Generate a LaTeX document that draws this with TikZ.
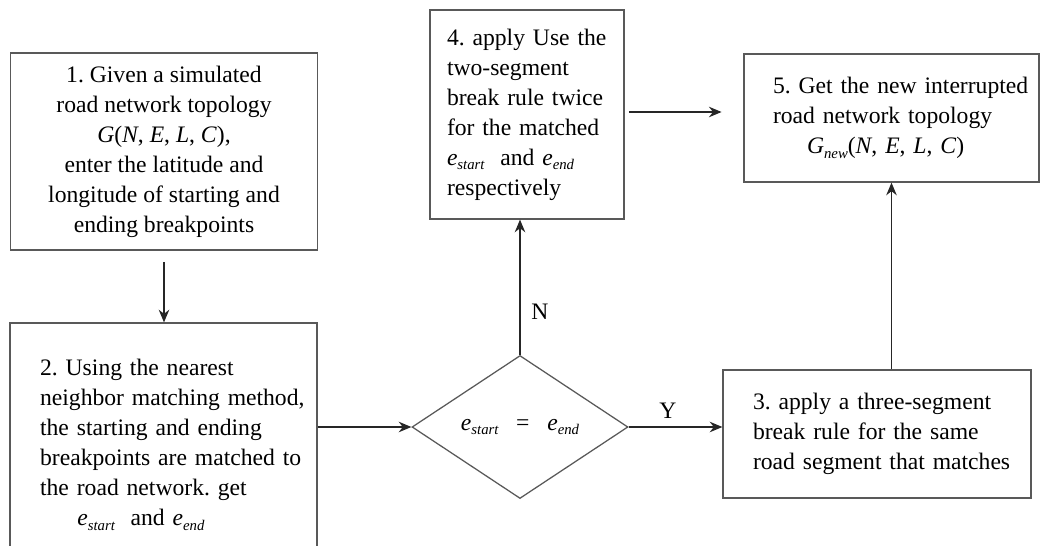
\documentclass[tikz,border=0pt]{standalone}
\usepackage{fontspec}
\setmainfont{Liberation Serif}
\frenchspacing
\hyphenpenalty=10000
\exhyphenpenalty=10000
\usetikzlibrary{shapes.geometric,arrows.meta,calc}
\newcommand{\mysub}[2]{\textit{#1}\raisebox{-0.45ex}{\fontsize{10.5}{10.5}\selectfont\itshape #2}}
\newcommand{\gnecl}{(\textit{N}, \textit{E}, \textit{L}, \textit{C})}
\begin{document}
\begin{tikzpicture}[x=0.025cm,y=-0.025cm,
  every node/.style={font=\fontsize{16.8}{21.3}\selectfont},
  box/.style={draw=black!65, line width=0.9pt, rectangle, inner sep=0pt},
  dia/.style={draw=black!65, line width=0.9pt, diamond, inner sep=0pt, minimum width=216*0.025cm, minimum height=143*0.025cm},
  arr/.style={draw=black!85, line width=0.9pt, -{Stealth[length=9pt,width=7.5pt]}},
  lbl/.style={inner sep=0pt}]
\useasboundingbox (0,0) rectangle (1041,546);
\clip (0,0) rectangle (1041,546);
% boxes
\node[box, minimum width=307*0.025cm, minimum height=197*0.025cm, align=center] (b1) at (164,151.5)
  {1. Given a simulated\\road network topology\\\textit{G}\gnecl,\\enter the latitude and\\longitude of starting and\\ending breakpoints};
\node[box, minimum width=307*0.025cm, minimum height=244*0.025cm, text width=290*0.025cm, align=left] (b2) at (163.5,445)
  {\leftskip=0.54cm 2. Using the nearest\\neighbor matching method,\\the starting and ending\\breakpoints are matched to\\the road network. get\\\hspace*{0.93cm}\mysub{e}{start}\ \ and \mysub{e}{end}\par};
\node[box, minimum width=194*0.025cm, minimum height=209*0.025cm, text width=160*0.025cm, align=left] (b4) at (527,114.5)
  {4. apply Use the\\two-segment\\break rule twice\\for the matched\\\mysub{e}{start}\ \ and \mysub{e}{end}\\respectively};
\node[box, minimum width=295*0.025cm, minimum height=128*0.025cm, text width=285*0.025cm, align=left] (b5) at (891.5,118)
  {\leftskip=0.6cm 5. Get the new interrupted\\road network topology\\\hspace*{0.85cm}\mysub{G}{new}\gnecl\par};
\node[box, minimum width=308*0.025cm, minimum height=128*0.025cm, text width=268*0.025cm, align=left] (b3) at (877,434)
  {\leftskip=0.25cm 3. apply a three-segment\\break rule for the same\\road segment that matches\par};
\node[dia] (d) at (520,427) {\mysub{e}{start}\ \ \ =\ \ \ \mysub{e}{end}};
% labels
\node[lbl] (n) at (540,312) {N};
\node[lbl] (y) at (668,411) {Y};
% connectors
\draw[arr, shorten <=8pt] (b1.south) -- (b1.south |- b2.north);
\draw[arr] (b2.east |- d.west) -- (d.west);
\draw[arr] (d.north) -- (d.north |- b4.south);
\draw[arr] (d.east) -- (d.east -| b3.west);
\draw[arr] (b5.south |- b3.north) -- (b5.south);
\draw[arr, shorten <=3pt, shorten >=15.5pt] (b4.east |- 0,112) -- (b5.west |- 0,112);
\end{tikzpicture}
\end{document}
